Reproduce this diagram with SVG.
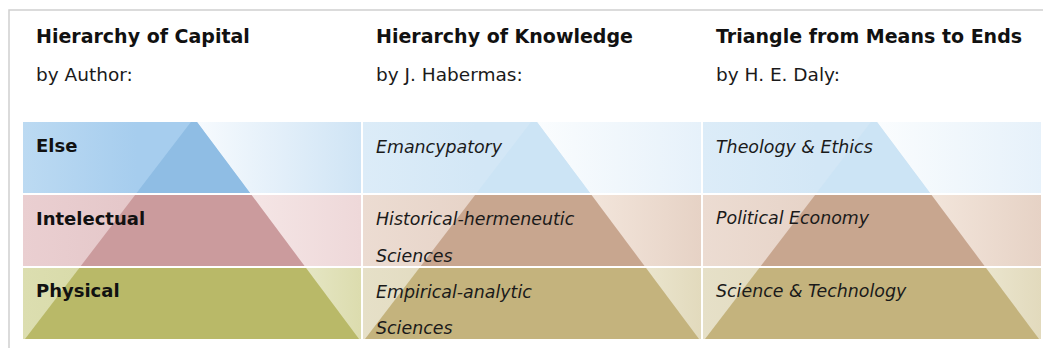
<svg xmlns="http://www.w3.org/2000/svg" width="1043" height="348" viewBox="0 0 1043 348">
  <defs>
    <style>
      .head { font-family: "DejaVu Sans", sans-serif; font-weight: bold; font-size: 19px; fill: #111; }
      .by { font-family: "DejaVu Sans", sans-serif; font-size: 18.5px; fill: #1a1a1a; }
      .lvl { font-family: "DejaVu Sans", sans-serif; font-weight: bold; font-size: 18px; fill: #111; }
      .it { font-family: "DejaVu Sans", sans-serif; font-style: italic; font-size: 17.4px; fill: #1a1a1a; }
      .frame { stroke: #d0d0d0; stroke-width: 1.5; fill: none; }
    </style>
    <!-- band backgrounds: pale on the right, fading toward white near the pyramid edge -->
    <linearGradient id="a-top" x1="0" y1="0" x2="1" y2="0">
      <stop offset="0.5" stop-color="#f8fbfe"/><stop offset="1" stop-color="#cfe4f5"/>
    </linearGradient>
    <linearGradient id="a-mid" x1="0" y1="0" x2="1" y2="0">
      <stop offset="0.66" stop-color="#f5e6e6"/><stop offset="1" stop-color="#eed8d9"/>
    </linearGradient>
    <linearGradient id="a-low" x1="0" y1="0" x2="1" y2="0">
      <stop offset="0.82" stop-color="#e6e7c6"/><stop offset="1" stop-color="#dcdcae"/>
    </linearGradient>
    <linearGradient id="b-top" x1="0" y1="0" x2="1" y2="0">
      <stop offset="0.5" stop-color="#fbfdfe"/><stop offset="1" stop-color="#e6f1fa"/>
    </linearGradient>
    <linearGradient id="b-mid" x1="0" y1="0" x2="1" y2="0">
      <stop offset="0.66" stop-color="#f3e6dc"/><stop offset="1" stop-color="#e6d2c5"/>
    </linearGradient>
    <linearGradient id="b-low" x1="0" y1="0" x2="1" y2="0">
      <stop offset="0.82" stop-color="#ebe6cf"/><stop offset="1" stop-color="#e2dabd"/>
    </linearGradient>
    <!-- left parts of the bands -->
    <linearGradient id="al-top" x1="0" y1="0" x2="1" y2="0">
      <stop offset="0" stop-color="#bcdaf2"/><stop offset="0.5" stop-color="#a6cdee"/>
    </linearGradient>
    <linearGradient id="al-mid" x1="0" y1="0" x2="1" y2="0">
      <stop offset="0" stop-color="#eacfd1"/><stop offset="0.5" stop-color="#e3c5c7"/>
    </linearGradient>
    <linearGradient id="al-low" x1="0" y1="0" x2="1" y2="0">
      <stop offset="0" stop-color="#dcdeb0"/><stop offset="0.5" stop-color="#d3d59f"/>
    </linearGradient>
    <linearGradient id="bl-top" x1="0" y1="0" x2="1" y2="0">
      <stop offset="0" stop-color="#dcecf8"/><stop offset="0.5" stop-color="#d3e7f6"/>
    </linearGradient>
    <linearGradient id="bl-mid" x1="0" y1="0" x2="1" y2="0">
      <stop offset="0" stop-color="#ecdcd2"/><stop offset="0.5" stop-color="#e5d1c5"/>
    </linearGradient>
    <linearGradient id="bl-low" x1="0" y1="0" x2="1" y2="0">
      <stop offset="0" stop-color="#e6e0c8"/><stop offset="0.5" stop-color="#ddd5b6"/>
    </linearGradient>
  </defs>

  <rect width="1043" height="348" fill="#ffffff"/>

  <!-- page frame -->
  <path class="frame" d="M9,348 V10 H1043"/>

  <!-- column headings -->
  <g id="head-capital">
    <text class="head" x="36" y="43">Hierarchy of Capital</text>
    <text class="by" x="36" y="81">by Author:</text>
  </g>
  <g id="head-knowledge">
    <text class="head" x="376" y="43">Hierarchy of Knowledge</text>
    <text class="by" x="376" y="81">by J. Habermas:</text>
  </g>
  <g id="head-daly">
    <text class="head" x="716" y="43">Triangle from Means to Ends</text>
    <text class="by" x="716" y="81">by H. E. Daly:</text>
  </g>

  <!-- pyramid 1: hierarchy of capital -->
  <g id="pyramid-capital" transform="translate(23,0)">
    <g id="cap-else">
      <rect x="0" y="122" width="338" height="71" fill="url(#a-top)"/>
      <polygon points="0,122 174,122 227,193 0,193" fill="url(#al-top)"/>
      <polygon points="167.9,122 174,122 227,193 113.6,193" fill="#8fbde4"/>
      <text class="lvl" x="13" y="152">Else</text>
    </g>
    <g id="cap-intelectual">
      <rect x="0" y="195" width="338" height="71" fill="url(#a-mid)"/>
      <polygon points="0,195 228.5,195 281.5,266 0,266" fill="url(#al-mid)"/>
      <polygon points="112.1,195 228.5,195 281.5,266 57.8,266" fill="#cb9b9d"/>
      <text class="lvl" x="13" y="225">Intelectual</text>
    </g>
    <g id="cap-physical">
      <rect x="0" y="268" width="338" height="71" fill="url(#a-low)"/>
      <polygon points="0,268 283,268 336,339 0,339" fill="url(#al-low)"/>
      <polygon points="56.3,268 283,268 336,339 2,339" fill="#b9b968"/>
      <text class="lvl" x="13" y="297">Physical</text>
    </g>
  </g>

  <!-- pyramid 2: hierarchy of knowledge -->
  <g id="pyramid-knowledge" transform="translate(363,0)">
    <g id="know-emancipatory">
      <rect x="0" y="122" width="338" height="71" fill="url(#b-top)"/>
      <polygon points="0,122 174,122 227,193 0,193" fill="url(#bl-top)"/>
      <polygon points="167.9,122 174,122 227,193 113.6,193" fill="#cce4f5"/>
      <text class="it" x="13" y="152.5">Emancypatory</text>
    </g>
    <g id="know-historical">
      <rect x="0" y="195" width="338" height="71" fill="url(#b-mid)"/>
      <polygon points="0,195 228.5,195 281.5,266 0,266" fill="url(#bl-mid)"/>
      <polygon points="112.1,195 228.5,195 281.5,266 57.8,266" fill="#c8a68f"/>
      <text class="it" x="13" y="224.5">Historical-hermeneutic</text>
      <text class="it" x="13" y="261.5">Sciences</text>
    </g>
    <g id="know-empirical">
      <rect x="0" y="268" width="338" height="71" fill="url(#b-low)"/>
      <polygon points="0,268 283,268 336,339 0,339" fill="url(#bl-low)"/>
      <polygon points="56.3,268 283,268 336,339 2,339" fill="#c4b37d"/>
      <text class="it" x="13" y="297.5">Empirical-analytic</text>
      <text class="it" x="13" y="334">Sciences</text>
    </g>
  </g>

  <!-- pyramid 3: means to ends -->
  <g id="pyramid-daly" transform="translate(703,0)">
    <g id="daly-theology">
      <rect x="0" y="122" width="338" height="71" fill="url(#b-top)"/>
      <polygon points="0,122 174,122 227,193 0,193" fill="url(#bl-top)"/>
      <polygon points="167.9,122 174,122 227,193 113.6,193" fill="#cce4f5"/>
      <text class="it" x="13" y="152.5">Theology &amp; Ethics</text>
    </g>
    <g id="daly-economy">
      <rect x="0" y="195" width="338" height="71" fill="url(#b-mid)"/>
      <polygon points="0,195 228.5,195 281.5,266 0,266" fill="url(#bl-mid)"/>
      <polygon points="112.1,195 228.5,195 281.5,266 57.8,266" fill="#c8a68f"/>
      <text class="it" x="13" y="223.5">Political Economy</text>
    </g>
    <g id="daly-science">
      <rect x="0" y="268" width="338" height="71" fill="url(#b-low)"/>
      <polygon points="0,268 283,268 336,339 0,339" fill="url(#bl-low)"/>
      <polygon points="56.3,268 283,268 336,339 2,339" fill="#c4b37d"/>
      <text class="it" x="13" y="297">Science &amp; Technology</text>
    </g>
  </g>
</svg>
